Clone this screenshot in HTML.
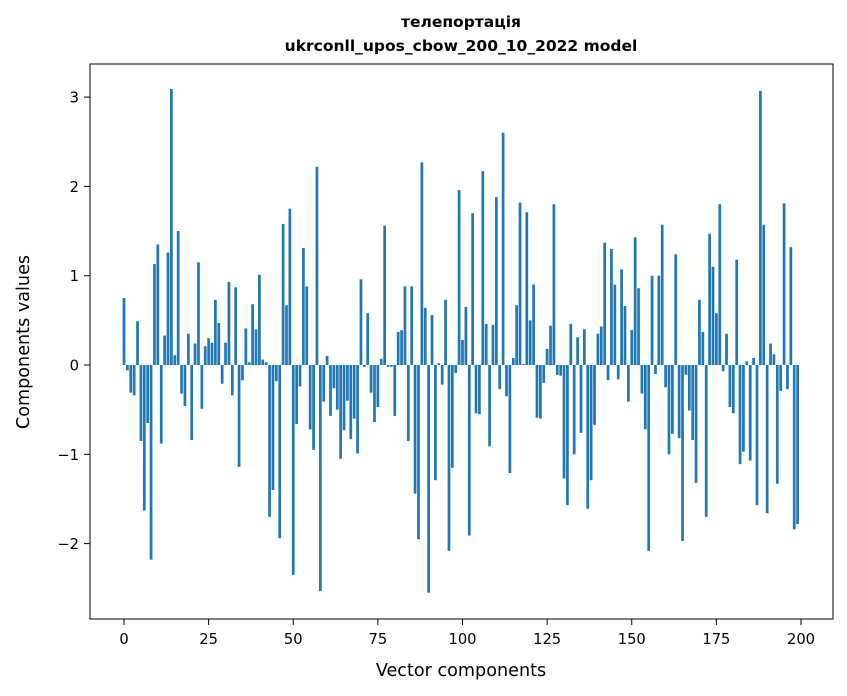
<!DOCTYPE html>
<html><head><meta charset="utf-8"><style>body{margin:0;background:#fff}svg{display:block;font-family:"DejaVu Sans","Liberation Sans",sans-serif}</style></head>
<body>
<svg id="chart" width="847" height="696" viewBox="0 0 847 696">
<rect x="0" y="0" width="847" height="696" fill="#fff"/>
<text x="461" y="27" text-anchor="middle" font-size="15.5" font-weight="bold">телепортація</text>
<text x="461" y="51" text-anchor="middle" font-size="15.5" font-weight="bold">ukrconll_upos_cbow_200_10_2022 model</text>
<g id="bars"></g>
<rect x="90" y="64" width="743" height="555" fill="none" stroke="#000" stroke-width="1"/>
<g id="xticks"></g>
<g id="yticks"></g>
<text x="461" y="676" text-anchor="middle" font-size="17.6">Vector components</text>
<text transform="translate(29,342) rotate(-90)" text-anchor="middle" font-size="17.6">Components values</text>
</svg>
<script>
const values = [0.75,-0.06,-0.31,-0.34,0.49,-0.85,-1.63,-0.65,-2.18,1.13,1.35,-0.88,0.33,1.26,3.09,0.11,1.5,-0.32,-0.46,0.35,-0.84,0.24,1.15,-0.49,0.21,
0.30,0.25,0.73,0.47,-0.21,0.25,0.93,-0.34,0.87,-1.14,-0.17,0.41,0.03,0.68,0.40,1.01,0.06,0.03,-1.70,-1.40,-0.18,-1.94,1.58,0.67,1.75,
-2.35,-0.66,-0.24,1.31,0.88,-0.72,-0.95,2.22,-2.53,-0.41,0.10,-0.57,-0.26,-0.50,-1.05,-0.73,-0.40,-0.83,-0.60,-0.99,0.96,-0.02,0.58,-0.31,-0.64,
-0.47,0.07,1.56,-0.02,-0.02,-0.57,0.37,0.39,0.88,-0.85,0.88,-1.44,-1.95,2.27,0.64,-2.55,0.56,-1.29,0.02,-0.22,0.73,-2.08,-1.15,-0.09,1.96,
0.28,0.65,-1.91,1.70,-0.54,-0.55,2.17,0.46,-0.91,0.45,1.88,-0.27,2.60,-0.35,-1.21,0.08,0.67,1.82,0.01,1.71,0.50,0.90,-0.59,-0.60,-0.20,
0.18,0.44,1.80,-0.11,-0.12,-1.27,-1.57,0.46,-1.00,0.31,-0.76,0.40,-1.61,-1.29,-0.67,0.35,0.43,1.37,-0.17,1.30,0.90,-0.16,1.07,0.66,-0.41,
0.39,1.43,0.86,-0.32,-0.72,-2.08,1.00,-0.10,1.00,1.57,-0.25,-1.00,-0.77,1.24,-0.82,-1.97,-0.11,-0.51,-0.84,-1.32,0.73,0.37,-1.70,1.47,
1.10,0.58,1.80,-0.07,0.35,-0.47,-0.54,1.18,-1.11,-0.97,0.04,-1.07,0.08,-1.57,3.07,1.57,-1.66,0.24,0.12,-1.33,-0.29,1.81,-0.27,1.32,-1.84,-1.78];
const xTicks = [0,25,50,75,100,125,150,175,200];
const yTicks = [-2,-1,0,1,2,3];
const yTickLabels = ["\u22122","\u22121","0","1","2","3"];

const NS = "http://www.w3.org/2000/svg";
function xs(v){ return 124 + 3.385*v; }
function ys(v){ return 365 - 89.3*v; }
const bars = document.getElementById('bars');
values.forEach((v,i)=>{
  const r = document.createElementNS(NS,'rect');
  
  
  const x0 = xs(i-0.4), x1 = xs(i+0.4);
  r.setAttribute('x', x0); r.setAttribute('width', x1-x0);
  r.setAttribute('y', Math.min(ys(v), ys(0)));
  r.setAttribute('height', Math.abs(ys(v)-ys(0)));
  r.setAttribute('fill', '#1f77b4');
  bars.appendChild(r);
});
const xg = document.getElementById('xticks');
xTicks.forEach(t=>{
  const l = document.createElementNS(NS,'line');
  
  
  l.setAttribute('x1', xs(t)); l.setAttribute('x2', xs(t));
  l.setAttribute('y1', 619); l.setAttribute('y2', 625);
  l.setAttribute('stroke', '#000');
  xg.appendChild(l);
  const tx = document.createElementNS(NS,'text');
  
  
  tx.setAttribute('x', xs(t)); tx.setAttribute('y', 644);
  tx.setAttribute('text-anchor', 'middle'); tx.setAttribute('font-size', '14.7');
  tx.textContent = t;
  xg.appendChild(tx);
});
const yg = document.getElementById('yticks');
yTicks.forEach((t,k)=>{
  const l = document.createElementNS(NS,'line');
  
  
  l.setAttribute('x1', 84); l.setAttribute('x2', 90);
  l.setAttribute('y1', ys(t)); l.setAttribute('y2', ys(t));
  l.setAttribute('stroke', '#000');
  yg.appendChild(l);
  const tx = document.createElementNS(NS,'text');
  
  
  tx.setAttribute('x', 79); tx.setAttribute('y', ys(t)+5.5);
  tx.setAttribute('text-anchor', 'end'); tx.setAttribute('font-size', '14.7');
  tx.textContent = yTickLabels[k];
  yg.appendChild(tx);
});
</script>
</body></html>
